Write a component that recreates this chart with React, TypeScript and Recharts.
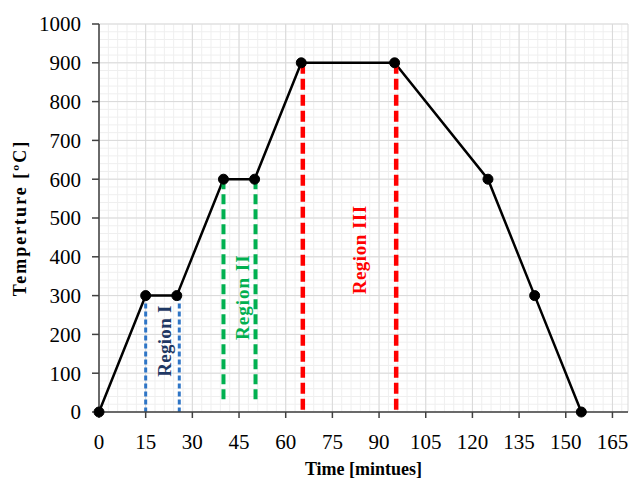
import { LineChart, Line, XAxis, YAxis, CartesianGrid, ReferenceDot } from "recharts"

// heat treatment cycle
const timeMin = [0, 15, 25, 40, 50, 65, 95, 125, 140, 155]
const tempC = [0, 300, 300, 600, 600, 900, 900, 600, 300, 0]

const xTicks = [0, 15, 30, 45, 60, 75, 90, 105, 120, 135, 150, 165]
const yTicks = [0, 100, 200, 300, 400, 500, 600, 700, 800, 900, 1000]

const X_MAX = 170
const Y_MAX = 1000

// minor grid spacing
const minorX = Array.from({ length: 57 }, (_, i) => i * 3)
const minorY = Array.from({ length: 51 }, (_, i) => i * 20)

// dashed region markers: [x, top, bottom]
const regionOne = [
  [15, 300, 0],
  [25.8, 300, 0],
]
const regionTwo = [
  [40, 600, 25],
  [50.3, 600, 25],
]
const regionThree = [
  [65.5, 900, 5],
  [95.5, 900, 5],
]

const regionLabels = [
  { text: "Region I", x: 21, y: 183, color: "#1f3864", spacing: 0.3 },
  { text: "Region II", x: 46, y: 296, color: "#00b050", spacing: 1 },
  { text: "Region III", x: 83.6, y: 418, color: "#ff0000", spacing: 0.5 },
]

const data = timeMin.map((t, i) => ({ x: t, y: tempC[i] }))
const toSeg = (s: number[]) => [
  { x: s[0], y: s[1] },
  { x: s[0], y: s[2] },
]

const font = "'Liberation Serif', 'Times New Roman', serif"

export default function App() {
  return (
    <div style={{ position: "fixed", left: 0, top: 0, width: 632, height: 489, background: "#fff" }}>
      <LineChart width={632} height={489} margin={{ top: 24, right: 4, left: 0, bottom: 0 }}>
        <CartesianGrid
          stroke="#efefef"
          strokeWidth={1}
          verticalCoordinatesGenerator={({ offset }: any) =>
            minorX.map((v) => offset.left + (v / X_MAX) * offset.width)
          }
          horizontalCoordinatesGenerator={({ offset }: any) =>
            minorY.map((v) => offset.top + offset.height - (v / Y_MAX) * offset.height)
          }
        />
        <CartesianGrid stroke="#d9d9d9" strokeWidth={1} />
        <XAxis
          dataKey="x"
          type="number"
          domain={[0, X_MAX]}
          ticks={xTicks}
          height={77}
          stroke="#404040"
          strokeWidth={1.5}
          tickSize={6}
          tickMargin={16}
          tick={{ fill: "#000", fontSize: 21, fontFamily: font }}
          label={{
            value: "Time [mintues]",
            position: "insideBottom",
            offset: 14,
            style: { fill: "#000", fontSize: 18, fontWeight: "bold", fontFamily: font },
          }}
        />
        <YAxis
          type="number"
          domain={[0, Y_MAX]}
          ticks={yTicks}
          width={99}
          stroke="#404040"
          strokeWidth={1.5}
          tickSize={7}
          tickMargin={11}
          tick={{ fill: "#000", fontSize: 21, fontFamily: font }}
          label={{
            value: "Temperture [ºC]",
            angle: -90,
            position: "insideLeft",
            offset: 20,
            style: {
              fill: "#000",
              fontSize: 18,
              fontWeight: "bold",
              fontFamily: font,
              textAnchor: "middle",
              letterSpacing: 2,
            },
          }}
        />
        <Line
          data={data}
          dataKey="y"
          stroke="#000"
          strokeWidth={2.5}
          dot={{ r: 5, fill: "#000", stroke: "#000", strokeWidth: 1 }}
          isAnimationActive={false}
        />
        {regionOne.map((s, i) => (
          <Line
            key={"r1" + i}
            data={toSeg(s)}
            dataKey="y"
            stroke="#2e75c6"
            strokeWidth={3}
            strokeDasharray="5 3"
            dot={false}
            isAnimationActive={false}
          />
        ))}
        {regionTwo.map((s, i) => (
          <Line
            key={"r2" + i}
            data={toSeg(s)}
            dataKey="y"
            stroke="#00b050"
            strokeWidth={4}
            strokeDasharray="10 5"
            dot={false}
            isAnimationActive={false}
          />
        ))}
        {regionThree.map((s, i) => (
          <Line
            key={"r3" + i}
            data={toSeg(s)}
            dataKey="y"
            stroke="#ff0000"
            strokeWidth={4.5}
            strokeDasharray="11 5"
            dot={false}
            isAnimationActive={false}
          />
        ))}
        {regionLabels.map((r) => (
          <ReferenceDot
            key={r.text}
            x={r.x}
            y={r.y}
            r={1}
            shape={(p: any) => (
              <text
                x={p.cx}
                y={p.cy}
                transform={`rotate(-90 ${p.cx} ${p.cy})`}
                textAnchor="middle"
                dominantBaseline="central"
                fill={r.color}
                fontSize={19}
                fontWeight="bold"
                fontFamily={font}
                letterSpacing={r.spacing}
              >
                {r.text}
              </text>
            )}
          />
        ))}
      </LineChart>
    </div>
  )
}
